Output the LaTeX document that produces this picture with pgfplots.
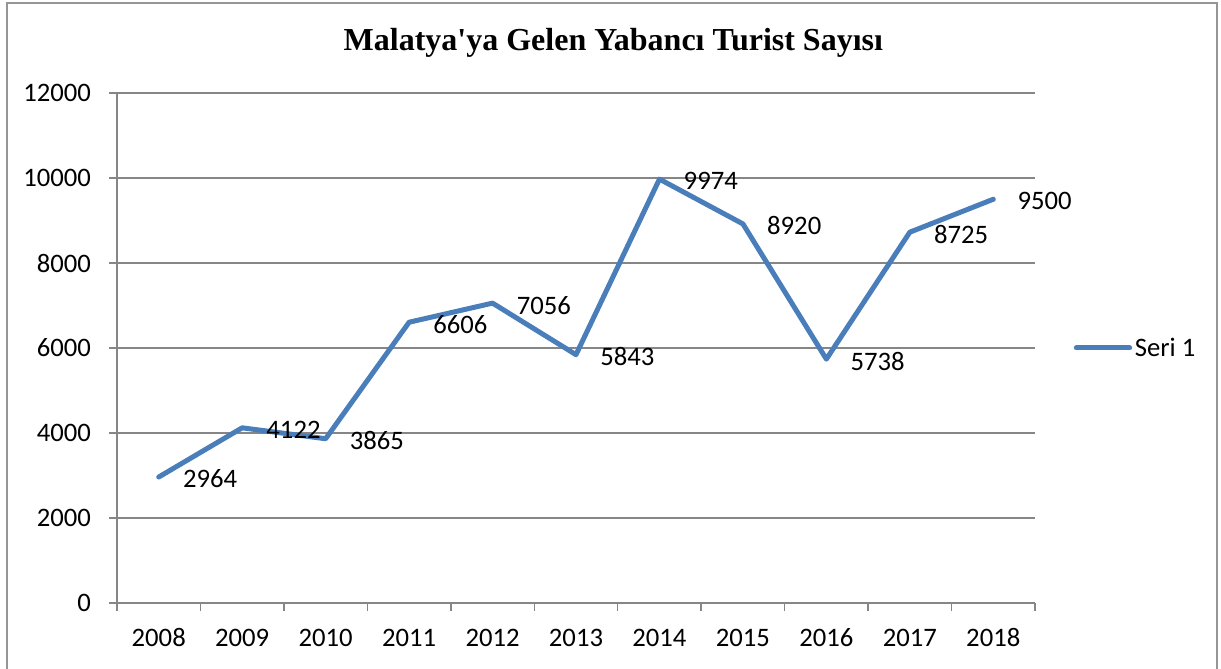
\documentclass[border=0pt]{standalone}
\usepackage{pgfplots}
\pgfplotsset{compat=1.18}
\usepackage{fontspec}
\setmainfont{Carlito}
\newfontfamily\titlefont{Liberation Serif}
\definecolor{exblue}{RGB}{74,126,187}
\definecolor{gridgray}{RGB}{134,134,134}
\definecolor{framegray}{RGB}{150,150,150}
\begin{document}
\begin{tikzpicture}
\path[use as bounding box] (0pt,0pt) rectangle (915.75pt,501pt);
\draw[framegray, line width=1.5pt] (5.25pt,-2pt) -- (5.25pt,498.75pt) -- (912.75pt,498.75pt) -- (912.75pt,-2pt);
\node[font=\titlefont\bfseries\fontsize{24}{28}\selectfont] at (460pt,468.75pt) {Malatya'ya Gelen Yabancı Turist Sayısı};
\begin{axis}[
  at={(87.75pt,48.75pt)}, anchor=south west,
  scale only axis, width=688.5pt, height=382.5pt,
  xmin=-0.5, xmax=10.5, ymin=0, ymax=12000,
  ytick={0,2000,...,12000},
  xtick={0,...,10},
  xticklabels={2008,2009,2010,2011,2012,2013,2014,2015,2016,2017,2018},
  minor xtick={-0.5,0.5,...,10.5},
  major x tick style={draw=none},
  tick align=outside,
  major tick length=6pt, minor tick length=6pt,
  tick style={gridgray, line width=1.1pt},
  axis line style={gridgray, line width=1.1pt},
  axis x line*=bottom, axis y line*=left,
  ymajorgrids, grid style={gridgray, line width=1.1pt},
  scaled ticks=false,
  /pgf/number format/1000 sep={},
  /pgf/number format/assume math mode=true,
  tick label style={font=\fontsize{20}{23}\selectfont, black},
  xticklabel style={anchor=center, yshift=-20pt},
  yticklabel style={anchor=east, xshift=-10pt},
  legend style={at={(1.042,0.5)}, anchor=west, draw=none, fill=none, font=\fontsize{20}{23}\selectfont, inner sep=0pt},
  legend image code/.code={\draw[#1, line width=3.75pt, line cap=round] (0pt,0pt) -- (40pt,0pt);},
  clip=false,
]
\addplot[exblue, line width=3.75pt, line join=round, line cap=round,
  nodes near coords, point meta=explicit symbolic,
  every node near coord/.style={anchor=west, xshift=13pt, yshift=-1.5pt, black, font=\fontsize{20}{23}\selectfont}]
  coordinates {
  (0,2964) [2964]
  (1,4122) [4122]
  (2,3865) [3865]
  (3,6606) [6606]
  (4,7056) [7056]
  (5,5843) [5843]
  (6,9974) [9974]
  (7,8920) [8920]
  (8,5738) [5738]
  (9,8725) [8725]
  (10,9500) [9500]
  };
\addlegendentry{Seri 1}
\end{axis}
\end{tikzpicture}
\end{document}
